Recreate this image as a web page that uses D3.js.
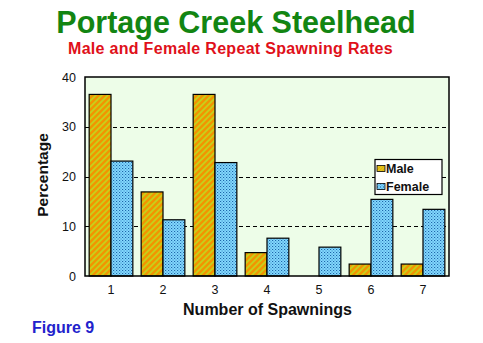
<!DOCTYPE html>
<html><head><meta charset="utf-8">
<script src="https://cdn.jsdelivr.net/npm/d3@7"></script>
<style>html,body{margin:0;padding:0;background:#fff;}svg{display:block;font-family:"Liberation Sans",Arial,sans-serif;}</style>
</head><body>
<script>
const categories = ["1","2","3","4","5","6","7"];
const seriesNames = ["Male","Female"];
const maleValues = [36.5, 16.9, 36.5, 4.7, 0, 2.4, 2.4];
const femaleValues = [23.1, 11.3, 22.8, 7.6, 5.8, 15.4, 13.4];
const yTicks = [0, 10, 20, 30, 40];
const gridTicks = [10, 20, 30];

const W = 483, H = 343;
const m = {left: 85, top: 77, right: 449, bottom: 276};
const svg = d3.select("body").append("svg").attr("width", W).attr("height", H);
const defs = svg.append("defs");

// Male pattern: orange with yellow-green diagonal dashes
const pm = defs.append("pattern").attr("id","pMale").attr("patternUnits","userSpaceOnUse")
  .attr("width",6).attr("height",6);
pm.append("rect").attr("width",6).attr("height",6).attr("fill","#f29400");
pm.append("path").attr("d","M0,6 L6,0 M-1,1 L1,-1 M5,7 L7,5").attr("stroke","#c4d41c").attr("stroke-width",1.7);
// Female pattern: light blue with dark dots
const pf = defs.append("pattern").attr("id","pFemale").attr("patternUnits","userSpaceOnUse")
  .attr("width",3).attr("height",3);
pf.append("rect").attr("width",3).attr("height",3).attr("fill","#86dcff");
pf.append("rect").attr("x",0).attr("y",0).attr("width",1).attr("height",1).attr("fill","#0a4f9c");
pf.append("rect").attr("x",1.5).attr("y",1.5).attr("width",1).attr("height",1).attr("fill","#1a66b4");
// Legend male swatch pattern
const pl = defs.append("pattern").attr("id","pMaleL").attr("patternUnits","userSpaceOnUse")
  .attr("width",3).attr("height",3);
pl.append("rect").attr("width",3).attr("height",3).attr("fill","#e8b000");
pl.append("path").attr("d","M0,3 L3,0").attr("stroke","#d8d840").attr("stroke-width",1);

const x = d3.scaleBand().domain(categories).range([m.left, m.right]).paddingInner(0.16).paddingOuter(0.08);
const xs = d3.scaleBand().domain(seriesNames).range([0, x.bandwidth()]);
const y = d3.scaleLinear().domain([0, 40]).range([m.bottom, m.top]);

// background
svg.append("rect").attr("x",m.left).attr("y",m.top).attr("width",m.right-m.left).attr("height",m.bottom-m.top)
  .attr("fill","#edfde8");

// grid
svg.append("g").selectAll("line").data(gridTicks).join("line")
  .attr("x1",m.left).attr("x2",m.right).attr("y1",d=>Math.round(y(d))+0.5).attr("y2",d=>Math.round(y(d))+0.5)
  .attr("stroke","#000").attr("stroke-dasharray","4,3").attr("stroke-width",1);

// bars
const data = categories.map((c,i)=>({c, vals:[{s:"Male",v:maleValues[i]},{s:"Female",v:femaleValues[i]}]}));
const g = svg.append("g").selectAll("g").data(data).join("g").attr("transform",d=>`translate(${x(d.c)},0)`);
g.selectAll("rect").data(d=>d.vals.filter(o=>o.v>0)).join("rect")
  .attr("x",d=>xs(d.s)).attr("width",xs.bandwidth())
  .attr("y",d=>y(d.v)).attr("height",d=>y(0)-y(d.v))
  .attr("fill",d=>d.s==="Male"?"url(#pMale)":"url(#pFemale)")
  .attr("stroke","#000").attr("stroke-width",1.2);

// frame
svg.append("rect").attr("x",m.left).attr("y",m.top).attr("width",m.right-m.left).attr("height",m.bottom-m.top)
  .attr("fill","none").attr("stroke","#000").attr("stroke-width",1.5);

// axes
const yAxis = svg.append("g").attr("transform",`translate(${m.left},0)`)
  .call(d3.axisLeft(y).tickValues(yTicks).tickSize(0).tickPadding(9));
yAxis.select(".domain").remove();
yAxis.selectAll("text").attr("font-size",12.5).attr("fill","#111").attr("font-family","Liberation Sans, Arial, sans-serif");

const xAxis = svg.append("g").attr("transform",`translate(0,${m.bottom})`)
  .call(d3.axisBottom(x).tickSize(0).tickPadding(9));
xAxis.select(".domain").remove();
xAxis.selectAll("text").attr("font-size",12.5).attr("fill","#111").attr("font-family","Liberation Sans, Arial, sans-serif");

// titles
svg.append("text").attr("x",236).attr("y",32.5).attr("text-anchor","middle")
  .attr("font-size",30.5).attr("font-weight","bold").attr("fill","#128512").text("Portage Creek Steelhead");
svg.append("text").attr("x",230.5).attr("y",54).attr("text-anchor","middle")
  .attr("font-size",16).attr("font-weight","bold").attr("fill","#e0101a").attr("letter-spacing",0.3)
  .text("Male and Female Repeat Spawning Rates");
svg.append("text").attr("transform","translate(48,175) rotate(-90)").attr("text-anchor","middle")
  .attr("font-size",15.5).attr("font-weight","bold").attr("fill","#111").text("Percentage");
svg.append("text").attr("x",267.5).attr("y",315).attr("text-anchor","middle")
  .attr("font-size",16).attr("font-weight","bold").attr("fill","#111").text("Number of Spawnings");
svg.append("text").attr("x",32).attr("y",333).attr("text-anchor","start")
  .attr("font-size",16).attr("font-weight","bold").attr("fill","#2222cc").text("Figure 9");

// legend
const lg = svg.append("g");
lg.append("rect").attr("x",375).attr("y",159.5).attr("width",67).attr("height",35)
  .attr("fill","#fff").attr("stroke","#000").attr("stroke-width",1.2);
const li = lg.selectAll("g").data(seriesNames).join("g")
  .attr("transform",(d,i)=>`translate(377,${165.5+i*18})`);
li.append("rect").attr("width",8).attr("height",6)
  .attr("fill",d=>d==="Male"?"url(#pMaleL)":"url(#pFemale)").attr("stroke","#000").attr("stroke-width",0.8);
li.append("text").attr("x",9).attr("y",7.5).attr("font-size",12.5).attr("font-weight","bold").attr("fill","#111").text(d=>d);
</script>
</body></html>
